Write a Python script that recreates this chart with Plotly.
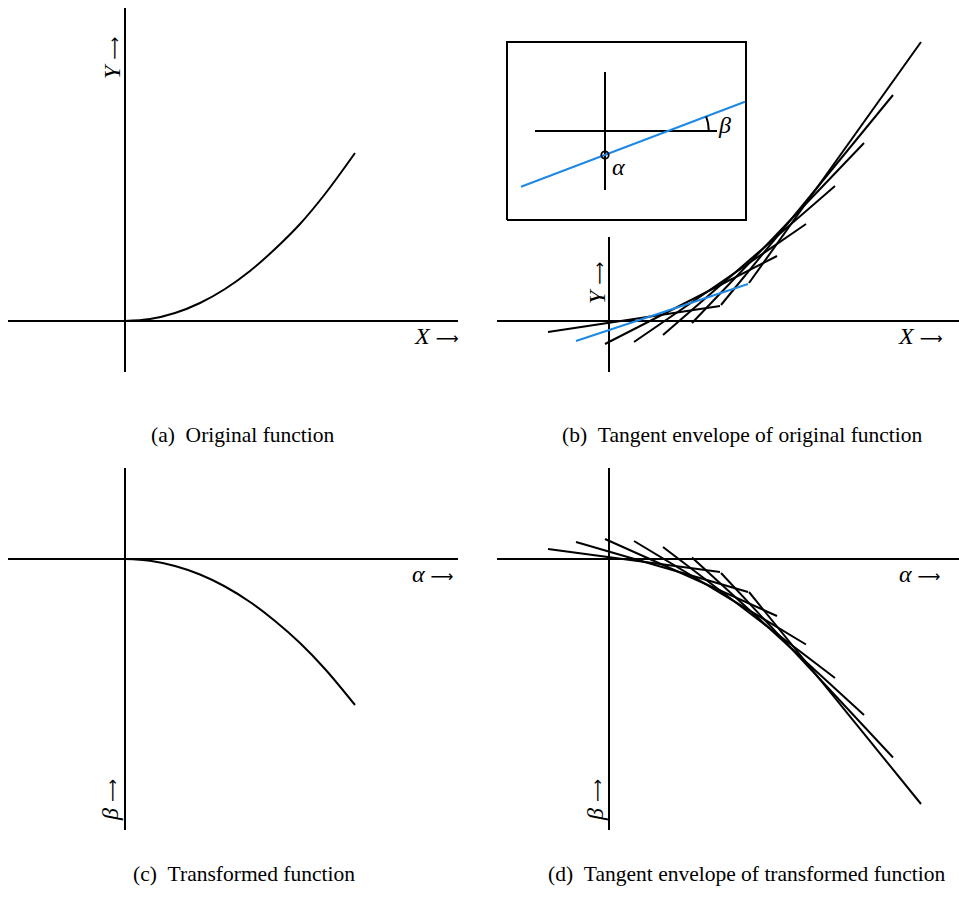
import math
import plotly.graph_objects as go

W, H = 959, 908
PX = 100.0  # pixels per data unit (same on both axes)

# ---------------- data (in axis units, origin at axis crossing) ----------------
# (a) original function
orig_x = [0, 0.25, 0.5, 0.75, 1.0, 1.25, 1.5, 1.75, 2.0, 2.3]
orig_y = [0, 0.02, 0.08, 0.18, 0.32, 0.50, 0.72, 0.97, 1.27, 1.68]

# (c) transformed function
trans_alpha = [0, 0.25, 0.5, 0.75, 1.0, 1.25, 1.5, 1.75, 2.0, 2.3]
trans_beta = [0, -0.017, -0.07, -0.155, -0.275, -0.43, -0.62, -0.84, -1.10, -1.46]

# (b) tangent lines of the original function: start / end points
tan_b_xs = [-0.61, -0.33, -0.04, 0.25, 0.54, 0.83, 1.12, 1.40]
tan_b_ys = [-0.11, -0.20, -0.23, -0.21, -0.14, -0.02, 0.16, 0.38]
tan_b_xe = [1.11, 1.39, 1.68, 1.97, 2.26, 2.55, 2.84, 3.12]
tan_b_ye = [0.15, 0.37, 0.65, 0.97, 1.35, 1.78, 2.26, 2.79]
tan_b_blue = 1  # index of highlighted tangent

# (d) tangent lines of the transformed function
tan_d_xs = [-0.61, -0.33, -0.04, 0.25, 0.54, 0.83, 1.12, 1.40]
tan_d_ys = [0.10, 0.17, 0.20, 0.18, 0.12, 0.015, -0.14, -0.33]
tan_d_xe = [1.11, 1.39, 1.68, 1.97, 2.26, 2.55, 2.84, 3.12]
tan_d_ye = [-0.13, -0.33, -0.57, -0.855, -1.19, -1.56, -1.985, -2.45]

# inset of (b)
inset_box_x = [-1.02, 1.37]
inset_box_y = [1.01, 2.79]
inset_vline_x = [-0.04, -0.04]
inset_vline_y = [1.31, 2.49]
inset_hline_x = [-0.74, 1.08]
inset_hline_y = [1.90, 1.90]
inset_blue_x = [-0.88, 1.36]
inset_blue_y = [1.343, 2.193]
inset_point = (-0.04, 1.66)

captions = ["(a)\u00a0\u00a0Original function",
            "(b)\u00a0\u00a0Tangent envelope of original function",
            "(c)\u00a0\u00a0Transformed function",
            "(d)\u00a0\u00a0Tangent envelope of transformed function"]

# ---------------- layout helpers ----------------
BLACK = "black"
BLUE = "rgb(30,136,229)"
FONT = "Liberation Serif"
ARROW = "<span style='font-family:DejaVu Sans;font-size:16px'>\u27f6</span>"

# panel: (left, top, right, bottom) pixel region, origin pixel
panels = [
    dict(reg=(0, 0, 479.5, 454), org=(125, 321)),
    dict(reg=(479.5, 0, 959, 454), org=(609, 321)),
    dict(reg=(0, 454, 479.5, 908), org=(125, 559)),
    dict(reg=(479.5, 454, 959, 908), org=(609, 559)),
]

fig = go.Figure()
layout = dict(width=W, height=H, margin=dict(l=0, r=0, t=0, b=0),
              paper_bgcolor="white", plot_bgcolor="white", showlegend=False)
for i, p in enumerate(panels):
    l, t, r, b = p["reg"]
    ox, oy = p["org"]
    sfx = "" if i == 0 else str(i + 1)
    layout["xaxis" + sfx] = dict(domain=[l / W, r / W], range=[(l - ox) / PX, (r - ox) / PX],
                                 visible=False, fixedrange=True,
                                 anchor="y" + sfx)
    layout["yaxis" + sfx] = dict(domain=[1 - b / H, 1 - t / H], range=[(oy - b) / PX, (oy - t) / PX],
                                 visible=False, fixedrange=True,
                                 anchor="x" + sfx)
fig.update_layout(**layout)

def ax(i):
    s = "" if i == 0 else str(i + 1)
    return "x" + s, "y" + s

def line(i, xs, ys, color=BLACK, width=2):
    xa, ya = ax(i)
    fig.add_trace(go.Scatter(x=xs, y=ys, mode="lines", xaxis=xa, yaxis=ya,
                             line=dict(color=color, width=width), hoverinfo="skip"))

# axes lines (pixel extents converted to units)
def axes(i, hx, vy):
    ox, oy = panels[i]["org"]
    line(i, [(hx[0] - ox) / PX, (hx[1] - ox) / PX], [0, 0])
    line(i, [0, 0], [(oy - vy[0]) / PX, (oy - vy[1]) / PX])

axes(0, (8, 458), (8, 372))
axes(1, (497, 959), (237, 372))
axes(2, (8, 458), (468, 830))
axes(3, (497, 959), (468, 830))

# curves
xa, ya = ax(0)
fig.add_trace(go.Scatter(x=orig_x, y=orig_y, mode="lines", xaxis=xa, yaxis=ya,
                         line=dict(color=BLACK, width=2, shape="spline"), hoverinfo="skip"))
xa, ya = ax(2)
fig.add_trace(go.Scatter(x=trans_alpha, y=trans_beta, mode="lines", xaxis=xa, yaxis=ya,
                         line=dict(color=BLACK, width=2, shape="spline"), hoverinfo="skip"))

# tangent lines
def tangents(i, xs, ys, xe, ye, skip=None):
    X, Y = [], []
    for k in range(len(xs)):
        if k == skip:
            continue
        X += [xs[k], xe[k], None]
        Y += [ys[k], ye[k], None]
    line(i, X, Y)

tangents(1, tan_b_xs, tan_b_ys, tan_b_xe, tan_b_ye, skip=tan_b_blue)
line(1, [tan_b_xs[tan_b_blue], tan_b_xe[tan_b_blue]],
     [tan_b_ys[tan_b_blue], tan_b_ye[tan_b_blue]], color=BLUE)
tangents(3, tan_d_xs, tan_d_ys, tan_d_xe, tan_d_ye)

# inset
line(1, [inset_box_x[0], inset_box_x[1], inset_box_x[1], inset_box_x[0], inset_box_x[0]],
     [inset_box_y[0], inset_box_y[0], inset_box_y[1], inset_box_y[1], inset_box_y[0]])
line(1, inset_vline_x, inset_vline_y)
line(1, inset_hline_x, inset_hline_y)
line(1, inset_blue_x, inset_blue_y, color=BLUE)
# angle arc between horizontal line and blue line
slope = (inset_blue_y[1] - inset_blue_y[0]) / (inset_blue_x[1] - inset_blue_x[0])
cx = inset_blue_x[0] + (inset_hline_y[0] - inset_blue_y[0]) / slope
cy = inset_hline_y[0]
ang = math.atan(slope)
rad = 0.41
arc_x = [cx + rad * math.cos(ang * k / 12) for k in range(13)]
arc_y = [cy + rad * math.sin(ang * k / 12) for k in range(13)]
line(1, arc_x, arc_y, width=2)
# alpha point
pr = 0.037
fig.add_shape(type="circle", xref="x2", yref="y2",
              x0=inset_point[0] - pr, x1=inset_point[0] + pr,
              y0=inset_point[1] - pr, y1=inset_point[1] + pr,
              line=dict(color=BLACK, width=1.8))

# ---------------- text ----------------
def label(i, x, y, text, angle=0, size=24):
    xa, ya = ax(i)
    fig.add_annotation(x=x, y=y, xref=xa, yref=ya, text=text, showarrow=False,
                       textangle=angle, xanchor="center", yanchor="middle",
                       font=dict(family=FONT, size=size, color=BLACK))

label(0, 3.11, -0.15, "<i>X</i> " + ARROW)
label(0, -0.13, 2.63, "<i>Y</i> " + ARROW, angle=-90)
label(1, 3.11, -0.15, "<i>X</i> " + ARROW)
label(1, -0.12, 0.38, "<i>Y</i> " + ARROW, angle=-90)
label(2, 3.08, -0.15, "<i>\u03b1</i> " + ARROW)
label(2, -0.15, -2.41, "<i>\u03b2</i> " + ARROW, angle=-90)
label(3, 3.11, -0.15, "<i>\u03b1</i> " + ARROW)
label(3, -0.14, -2.41, "<i>\u03b2</i> " + ARROW, angle=-90)
label(1, 0.09, 1.54, "<i>\u03b1</i>", size=24)
label(1, 1.15, 1.96, "<i>\u03b2</i>", size=24)

cap_pos = [(243, 435), (742, 435), (244, 874), (747, 874)]
for txt, (cx_, cy_) in zip(captions, cap_pos):
    fig.add_annotation(x=cx_ / W, y=1 - cy_ / H, xref="paper", yref="paper", text=txt,
                       showarrow=False, xanchor="center", yanchor="middle",
                       font=dict(family=FONT, size=21.5, color=BLACK))

fig.write_html("out.html")
